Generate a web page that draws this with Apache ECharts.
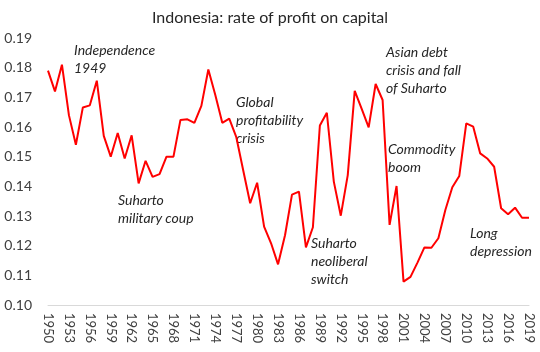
<!DOCTYPE html>
<html>
<head>
<meta charset="utf-8">
<script src="https://cdn.jsdelivr.net/npm/echarts@6/dist/echarts.min.js"></script>
<style>
  html, body { margin: 0; padding: 0; background: #fff; }
  #chart { width: 540px; height: 352px; }
</style>
</head>
<body>
<div id="chart"></div>
<script>
// years 1950..2019
const years = []
for (let y = 1950; y <= 2019; y++) years.push(String(y))

const profitRate = [
  0.179, 0.172, 0.181, 0.164, 0.154, 0.1666, 0.1673, 0.1756, 0.157, 0.150,
  0.158, 0.1494, 0.1572, 0.141, 0.1486, 0.1432, 0.1441, 0.150, 0.150, 0.1624,
  0.1626, 0.1614, 0.1671, 0.1794, 0.1708, 0.1614, 0.1628, 0.1567, 0.1454, 0.1343,
  0.1412, 0.1264, 0.1208, 0.1137, 0.1235, 0.1372, 0.1382, 0.1194, 0.1262, 0.1605,
  0.1648, 0.1416, 0.1301, 0.1438, 0.1722, 0.1661, 0.1599, 0.1745, 0.1691, 0.1270,
  0.1401, 0.1079, 0.1095, 0.1143, 0.1194, 0.1193, 0.1225, 0.1320, 0.1397, 0.1435,
  0.1612, 0.1601, 0.1511, 0.1494, 0.1466, 0.1326, 0.1306, 0.1328, 0.1294, 0.1294
]

const notes = [
  { text: 'Independence\n1949', left: 74, top: 41 },
  { text: 'Suharto\nmilitary coup', left: 118, top: 191 },
  { text: 'Global\nprofitability\ncrisis', left: 236, top: 93 },
  { text: 'Suharto\nneoliberal\nswitch', left: 311, top: 234 },
  { text: 'Asian debt\ncrisis and fall\nof Suharto', left: 386, top: 43 },
  { text: 'Commodity\nboom', left: 388, top: 140 },
  { text: 'Long\ndepression', left: 470, top: 224 }
]

const font = 'Lato, "Open Sans", sans-serif'
const chart = echarts.init(document.getElementById('chart'))
chart.setOption({
  animation: false,
  backgroundColor: '#fff',
  title: {
    text: 'Indonesia: rate of profit on capital',
    left: 'center',
    top: 5,
    textStyle: { fontFamily: font, fontWeight: 'normal', fontSize: 16, color: '#262626' }
  },
  grid: { left: 48, right: 11, top: 38, bottom: 47 },
  xAxis: {
    type: 'category',
    data: years,
    boundaryGap: false,
    axisLine: { lineStyle: { color: '#d9d9d9', width: 1 } },
    axisTick: { show: false },
    axisLabel: {
      interval: 2,
      rotate: -90,
      margin: 8,
      fontFamily: font,
      fontSize: 13,
      color: '#404040'
    },
    splitLine: { show: false }
  },
  yAxis: {
    type: 'value',
    min: 0.10,
    max: 0.19,
    interval: 0.01,
    axisLine: { show: false },
    axisTick: { show: false },
    splitLine: { show: false },
    axisLabel: {
      margin: 16,
      fontFamily: font,
      fontSize: 14,
      color: '#404040',
      formatter: v => v.toFixed(2)
    }
  },
  series: [
    {
      type: 'line',
      data: profitRate,
      showSymbol: false,
      lineStyle: { color: '#ff0000', width: 2 },
      itemStyle: { color: '#ff0000' }
    }
  ],
  graphic: notes.map(n => ({
    type: 'text',
    left: n.left,
    top: n.top,
    style: {
      text: n.text,
      font: 'italic 14px ' + font,
      fill: '#262626',
      lineHeight: 18
    }
  }))
})
</script>
</body>
</html>
